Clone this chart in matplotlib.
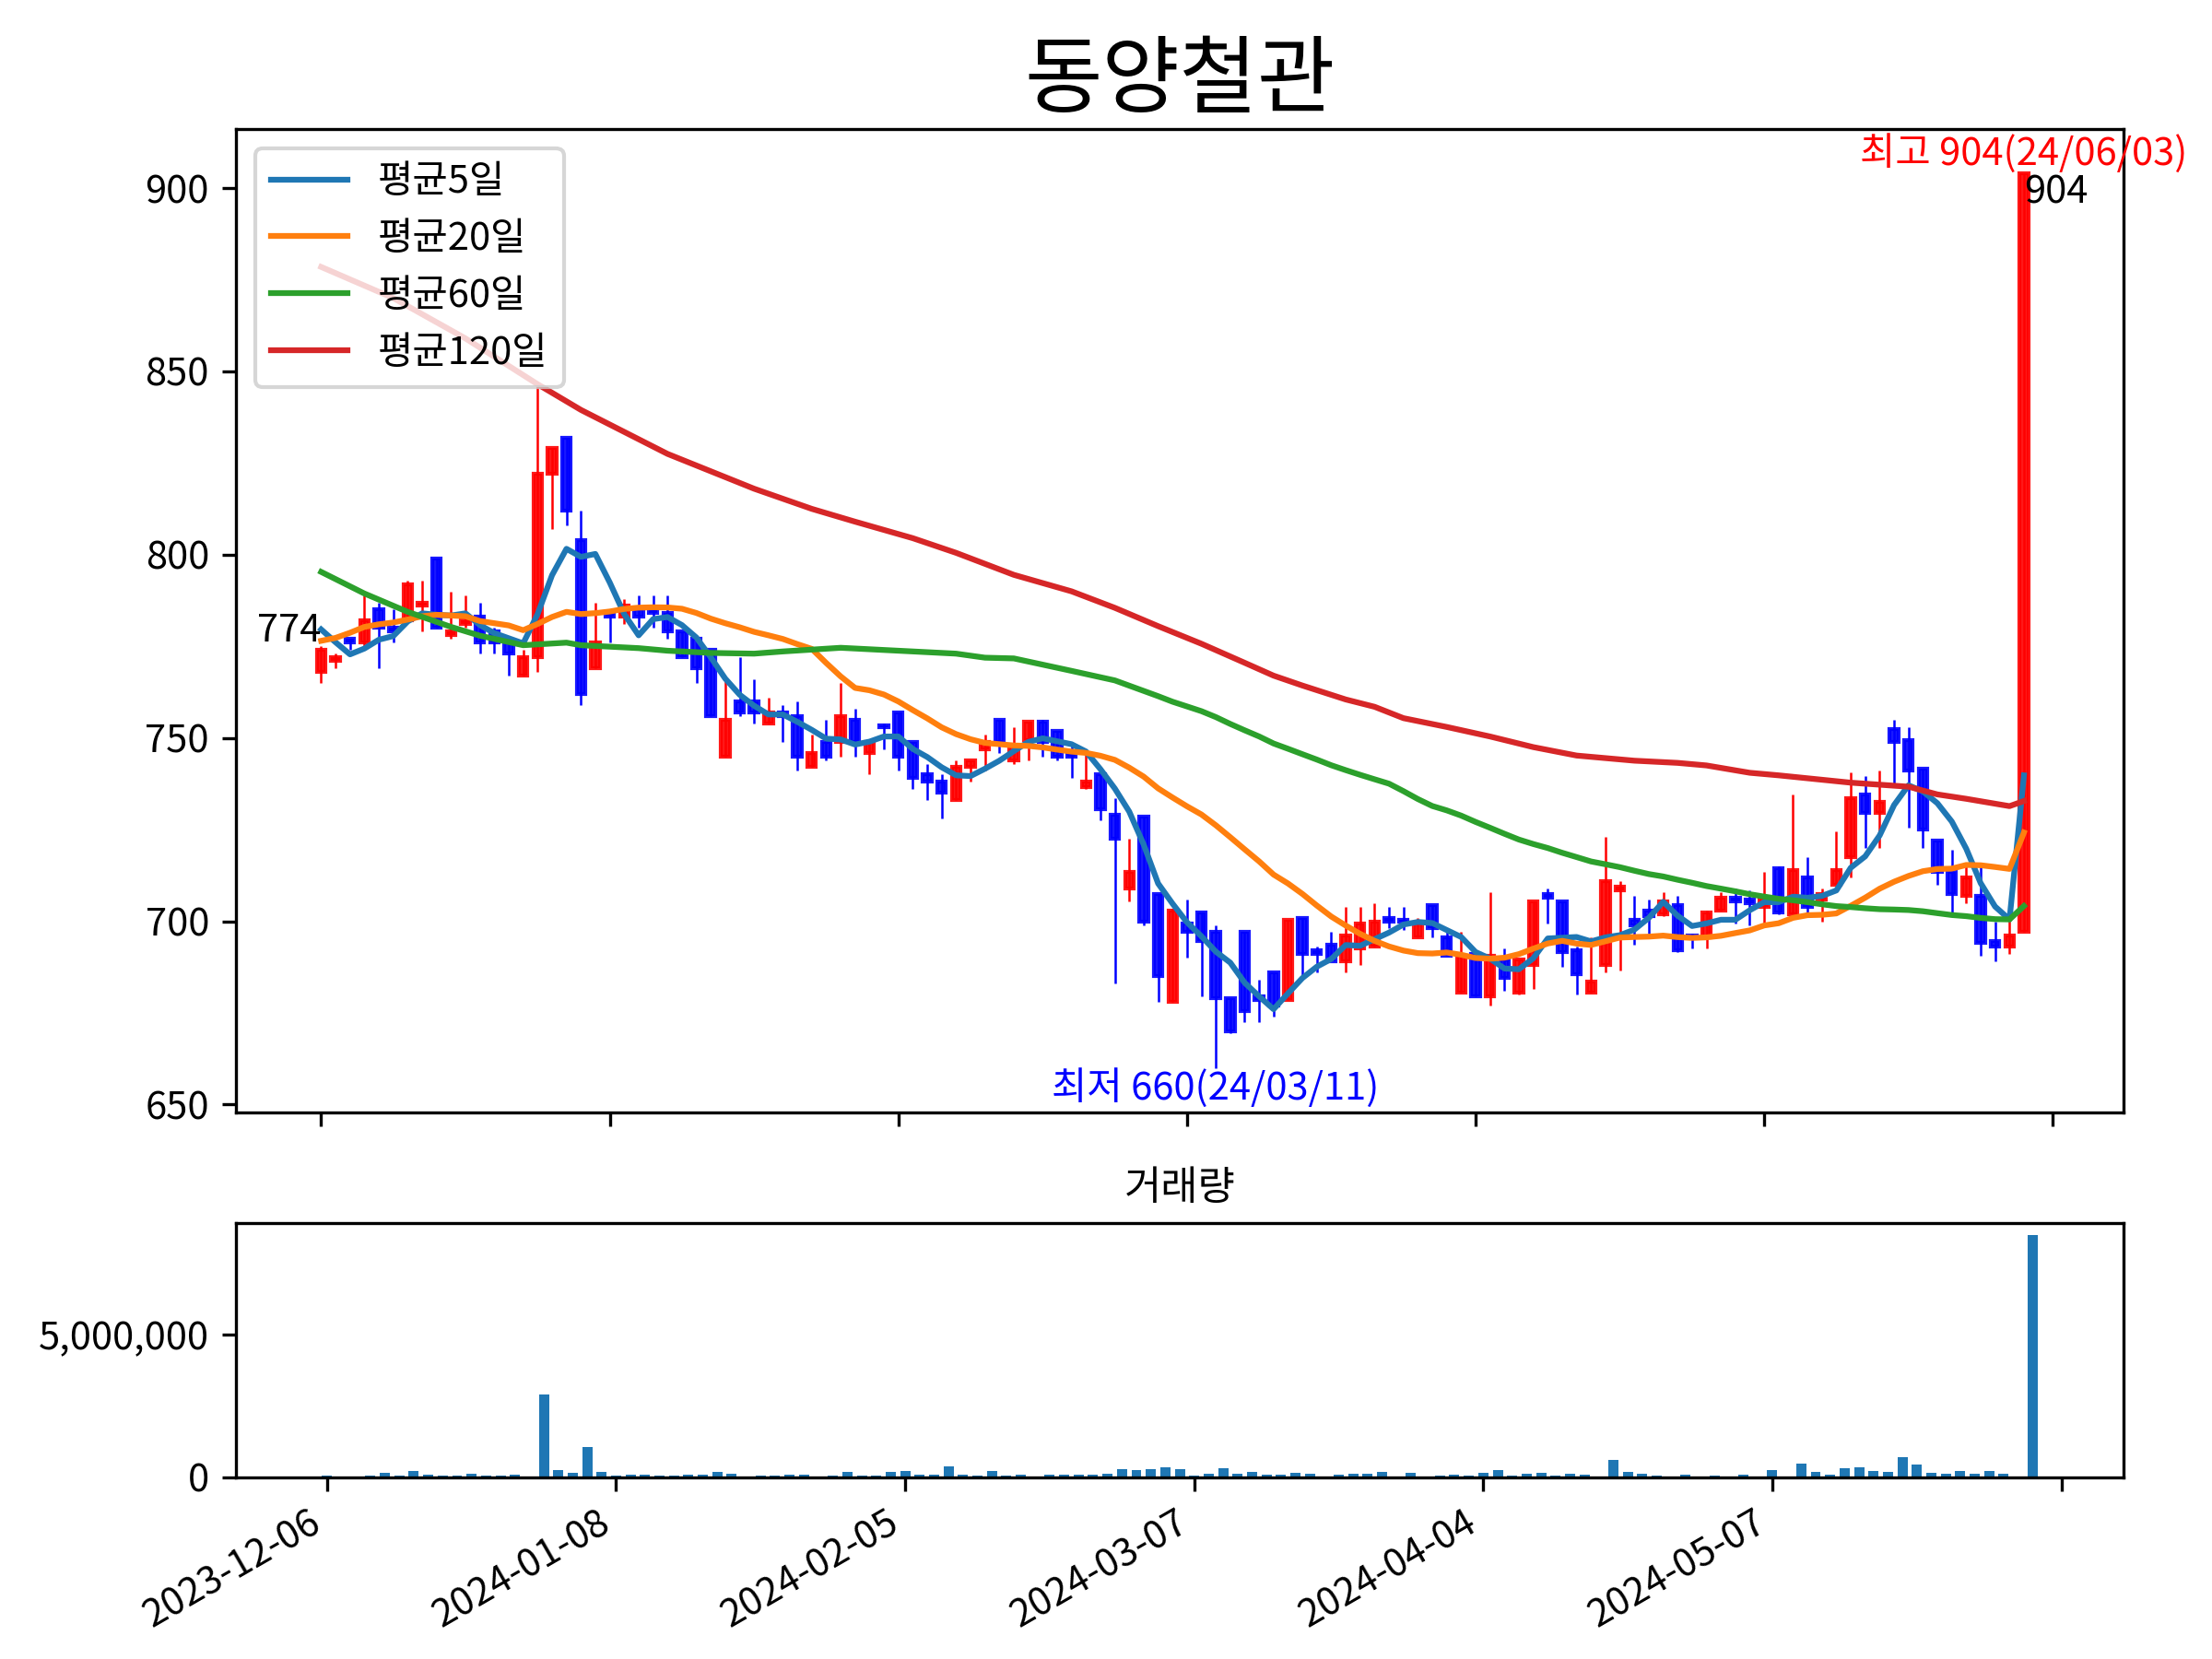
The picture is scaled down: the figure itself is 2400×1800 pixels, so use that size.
import numpy as np
import pandas as pd
import matplotlib
matplotlib.use('Agg')
import matplotlib.pyplot as plt
from matplotlib.ticker import FuncFormatter

plt.rcParams['font.family'] = ['Noto Sans CJK KR', 'DejaVu Sans']
plt.rcParams['axes.unicode_minus'] = False

STOCK_NAME = '동양철관'

opens = [768, 771, 777, 776, 785, 780, 782, 786, 799, 778,
         781, 783, 779, 776, 767, 772, 822, 832, 804, 769,
         784, 783, 785, 785, 784, 779, 777, 774, 745, 760,
         760, 754, 757, 756, 742, 749, 749, 755, 746, 753.5,
         757, 749, 740, 738, 733, 742, 747, 755, 744, 749.5,
         754.5, 752, 746, 736.5, 740, 729, 709, 728.5, 707.5, 678,
         699.5, 702.5, 697, 679, 697, 679.5, 686, 678.5, 701, 692,
         693.5, 689, 692.5, 693, 701, 700.5, 695.5, 704.5, 695.5, 680.5,
         691, 679.5, 689.5, 680.5, 688, 707.5, 705.5, 692, 680.5, 688,
         708.5, 700.5, 703, 702, 704.5, 696, 695.5, 703, 706.5, 706,
         704, 714.5, 702, 712, 706, 710, 717.5, 734.5, 729.5, 752.5,
         749.5, 741.5, 722, 713.5, 707, 707, 694.5, 693, 697]
highs = [775, 773, 777, 789, 787, 785, 793, 793, 799, 790,
         789, 787, 780, 777, 774, 846, 829, 832, 812, 787,
         784, 788, 789, 789, 789, 779, 777, 774, 766, 772,
         766, 761, 759, 760, 751, 755, 765, 758, 749, 754,
         757, 749, 743, 740, 744, 744, 751, 755, 753, 754.5,
         755, 752, 749, 746, 740, 733.5, 722.5, 728.5, 707.5, 703.5,
         706, 702.5, 699, 679, 697, 684, 686, 700.5, 701, 693,
         697, 704, 704, 705, 704, 704, 701, 704.5, 697.5, 697,
         691, 708, 692.5, 689.5, 705.5, 709, 705.5, 693, 695.5, 723,
         711, 707, 706, 708, 707, 696.5, 703, 708, 709, 708.5,
         713.5, 715, 734.5, 717.5, 709, 724.5, 740.5, 739.5, 741, 755,
         753, 741.5, 722, 719.5, 715, 715, 700, 701.5, 904]
lows = [765, 769, 774, 775, 769, 776, 782, 779, 780, 777,
        780, 773, 773, 767, 767, 768, 807, 808, 759, 769,
        776, 781, 780, 780, 777, 772, 765, 756, 745, 756,
        754, 754, 749, 741, 742, 744, 745, 745, 740, 747,
        741, 736, 733, 728, 733, 738, 741, 746, 743, 744,
        745, 744, 739, 736, 727.5, 683, 705.5, 699, 678, 678,
        690, 679.5, 660, 669.5, 672.5, 672.5, 674, 678.5, 684, 686,
        689, 686, 688, 693, 698, 697.5, 695.5, 695.5, 690.5, 680.5,
        679.5, 677, 681, 680, 681.5, 699.5, 687.5, 680, 680.5, 686,
        686.5, 693.5, 696.5, 701.5, 691.5, 692.5, 692.5, 703, 699.5, 699,
        699, 702, 702, 702, 700, 710, 712, 720, 720, 737.5,
        725.5, 720, 710, 702.5, 705, 690.5, 689, 691, 697]
closes = [774, 772, 776, 782, 780, 779, 792, 787, 780, 779,
          782, 776, 776, 773, 772, 822, 829, 812, 762, 776,
          783, 786, 783, 784, 779, 772, 769, 756, 755, 757,
          757, 757, 756, 745, 746, 745, 756, 749, 749, 753,
          745, 739, 738, 735, 742, 744, 749, 749, 748, 754.5,
          749, 745, 745, 738, 730.5, 722.5, 713.5, 700, 685, 703,
          697, 694.5, 679, 670, 675.5, 678.5, 677, 700.5, 691, 691,
          689, 696, 699.5, 700, 700, 700, 699.5, 698, 690.5, 690.5,
          679.5, 690.5, 684.5, 689.5, 705.5, 706.5, 691.5, 685.5, 683.5, 711,
          709.5, 699, 701.5, 705.5, 692, 695.5, 702.5, 706.5, 705.5, 705,
          706.5, 702.5, 714, 704, 707.5, 714, 733.5, 729.5, 732.5, 749,
          741, 725, 713.5, 707.5, 712, 694, 693, 696, 904]
volumes = [54000, 22000, 22000, 54000, 150000, 54000, 215000, 86000, 54000, 54000,
           118000, 54000, 54000, 86000, 22000, 2900000, 247000, 150000, 1050000, 183000,
           54000, 86000, 86000, 54000, 54000, 86000, 86000, 183000, 118000, 22000,
           54000, 54000, 86000, 86000, 22000, 54000, 183000, 54000, 54000, 183000,
           215000, 86000, 86000, 376000, 86000, 54000, 215000, 54000, 86000, 22000,
           86000, 86000, 86000, 86000, 118000, 280000, 247000, 280000, 344000, 280000,
           54000, 118000, 312000, 118000, 183000, 86000, 86000, 150000, 118000, 22000,
           86000, 118000, 118000, 183000, 22000, 150000, 22000, 54000, 86000, 54000,
           150000, 247000, 54000, 118000, 150000, 54000, 118000, 86000, 10000, 613000,
           183000, 118000, 54000, 10000, 86000, 22000, 54000, 22000, 86000, 22000,
           247000, 10000, 473000, 183000, 86000, 312000, 344000, 215000, 183000, 699000,
           441000, 150000, 118000, 215000, 118000, 215000, 118000, 22000, 8500000]

# moving averages need history before the first shown day: values
ma5_head = [779.6, 776.1, 772.8, 774.4]
ma20_head = [776.5, 777.3, 778.7, 780.3, 781.0, 781.5, 782.3, 783.2, 783.6, 783.4,
             783.2, 781.9, 781.3, 780.7, 779.4, 781.1, 783.0, 784.4, 783.8]
ma60_head_x = [0, 3, 6, 9, 11, 14, 17, 18, 22, 24, 27, 30, 32, 36, 39, 44, 46, 48, 50, 52, 55, 58]
ma60_head = [795.3, 789.4, 784.4, 780.3, 777.9, 775.3, 776.0, 775.3, 774.5, 773.8, 773.2,
             773.0, 773.6, 774.6, 774.0, 773.0, 771.9, 771.7, 770.0, 768.3, 765.7, 761.4]
ma120_x = [0, 5, 10, 15, 18, 24, 30, 34, 37, 41, 44, 48, 52, 55, 58, 61, 64, 66, 68, 71,
           73, 75, 78, 81, 84, 87, 91, 94, 96, 99, 101, 106, 110, 112, 114, 117, 118]
ma120 = [878.5, 870.0, 859.0, 846.5, 839.5, 827.5, 818.0, 812.5, 809.0, 804.5, 800.5,
         794.5, 790.0, 785.5, 780.5, 775.7, 770.5, 767.0, 764.3, 760.5, 758.5, 755.4,
         753.0, 750.4, 747.5, 745.2, 743.8, 743.2, 742.5, 740.5, 739.8, 737.8, 736.7,
         734.6, 733.4, 731.4, 732.8]

tick_idx = [0, 20, 40, 60, 80, 100, 120]
tick_dates = ['2023-12-06', '2024-01-08', '2024-02-05', '2024-03-07', '2024-04-04', '2024-05-07', '']
max_date = '24/06/03'
min_date = '24/03/11'

n = len(closes)
x = np.arange(n)
o = np.array(opens)
c = np.array(closes)
close_s = pd.Series(closes)

ma5 = close_s.rolling(5).mean().values
ma5[:4] = ma5_head
ma20 = close_s.rolling(20).mean().values
ma20[:19] = ma20_head
ma60_roll = close_s.rolling(60).mean().values
ma60_x = ma60_head_x + list(range(59, n))
ma60 = ma60_head + list(ma60_roll[59:])

fig, (ax1, ax2) = plt.subplots(2, 1, figsize=(8, 6), gridspec_kw={'height_ratios': [3.865, 1]})
fig.subplots_adjust(left=0.1067, right=0.96, top=0.9224, bottom=0.1095, hspace=0.178)

colors = ['r' if cc >= oo else 'b' for oo, cc in zip(opens, closes)]
ax1.vlines(x, lows, highs, colors=colors, linewidth=0.6)
ax1.bar(x, np.abs(c - o), bottom=np.minimum(o, c), width=0.6, color=colors,
        edgecolor=colors, linewidth=1, alpha=0.9)

ax1.plot(x, ma5, label='평균5일')
ax1.plot(x, ma20, label='평균20일')
ax1.plot(ma60_x, ma60, label='평균60일')
ax1.plot(ma120_x, ma120, label='평균120일')
ax1.legend(loc='upper left')

i_max = int(np.argmax(highs))
i_min = int(np.argmin(lows))
ax1.text(i_max, highs[i_max], f'최고 {highs[i_max]:.0f}({max_date})', color='red', ha='center', va='bottom')
ax1.text(i_min, lows[i_min], f'최저 {lows[i_min]:.0f}({min_date})', color='blue', ha='center', va='top')
ax1.text(0, closes[0], f'{closes[0]:.0f}', ha='right', va='bottom')
ax1.text(n - 1, closes[-1], f'{closes[-1]:.0f}', ha='left', va='top')

ax1.set_title(STOCK_NAME, fontsize=22)
ax1.set_xlim(-5.9, 124.9)
ax1.set_xticks(tick_idx)
ax1.set_xticklabels([])

ax2.bar(x, volumes, width=0.7, color='C0')
ax2.set_title('거래량', fontsize=10.5)
ax2.set_xlim(-6.3, 124.3)
ax2.set_yticks([0, 5000000])
ax2.yaxis.set_major_formatter(FuncFormatter(lambda v, p: f'{v:,.0f}'))
ax2.set_xticks(tick_idx)
ax2.set_xticklabels(tick_dates, rotation=30, ha='right')

fig.savefig('out.png', dpi=300)
